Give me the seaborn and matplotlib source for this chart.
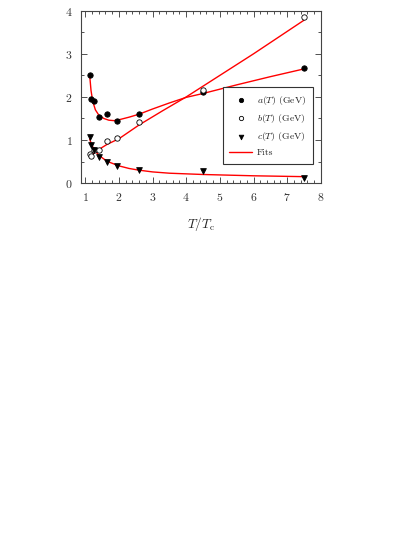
import matplotlib
matplotlib.use("Agg")
import matplotlib.pyplot as plt
import matplotlib.ticker as mticker
import seaborn as sns
import pandas as pd

# ── Data ──────────────────────────────────────────────────────────────────────
T = [1.13, 1.18, 1.25, 1.40, 1.65, 1.95, 2.60, 4.50, 7.50]
a_vals = [2.50, 1.95, 1.91, 1.54, 1.60, 1.45, 1.60, 2.12, 2.68]
b_vals = [0.67, 0.63, 0.77, 0.78, 0.97, 1.05, 1.42, 2.17, 3.85]
c_vals = [1.07, 0.88, 0.78, 0.60, 0.49, 0.40, 0.31, 0.28, 0.11]

# fit curves
a_fit_T = [1.13, 1.17, 1.22, 1.30, 1.40, 1.55, 1.70, 1.85, 2.00, 2.30, 2.60, 3.00, 3.50, 4.00, 4.50, 5.50, 6.50, 7.50]
a_fit = [2.50, 2.15, 1.90, 1.70, 1.58, 1.50, 1.46, 1.45, 1.47, 1.53, 1.60, 1.72, 1.86, 1.99, 2.08, 2.28, 2.47, 2.65]
b_fit_T = [1.13, 1.25, 1.40, 1.65, 2.00, 2.60, 3.30, 4.00, 5.00, 6.00, 7.50]
b_fit = [0.63, 0.69, 0.78, 0.90, 1.03, 1.35, 1.68, 2.00, 2.50, 3.00, 3.78]
c_fit_T = [1.13, 1.20, 1.30, 1.40, 1.55, 1.70, 2.00, 2.30, 2.60, 3.00, 3.50, 4.50, 6.00, 7.50]
c_fit = [1.02, 0.87, 0.74, 0.65, 0.56, 0.49, 0.40, 0.34, 0.30, 0.26, 0.23, 0.20, 0.17, 0.15]

sns.set_theme(style="ticks")
plt.rcParams.update({
    "font.family": ["serif"],
    "font.serif": ["cmr10", "DejaVu Serif"],
    "mathtext.fontset": "cm",
    "axes.formatter.use_mathtext": True,
    "axes.unicode_minus": False,
})

df = pd.DataFrame({"T": T, "a": a_vals, "b": b_vals, "c": c_vals})

fig = plt.figure(figsize=(4.15, 5.37), dpi=100)
ax = fig.add_axes([0.195, 0.659, 0.578, 0.321])

fit_kw = dict(color="#ff0000", linewidth=1.0, zorder=2)
ax.plot(a_fit_T, a_fit, **fit_kw)
ax.plot(b_fit_T, b_fit, **fit_kw)
ax.plot(c_fit_T, c_fit, label="Fits", **fit_kw)

sns.scatterplot(data=df, x="T", y="a", ax=ax, marker="o", s=15, color="black",
                edgecolor="black", linewidth=0.6, label="$a(T)$ (GeV)", zorder=3)
sns.scatterplot(data=df, x="T", y="b", ax=ax, marker="o", s=15, facecolor="white",
                edgecolor="black", linewidth=0.6, label="$b(T)$ (GeV)", zorder=3)
sns.scatterplot(data=df, x="T", y="c", ax=ax, marker="v", s=17, color="black",
                edgecolor="black", linewidth=0.6, label="$c(T)$ (GeV)", zorder=3)

ax.set_xlim(0.87, 8)
ax.set_ylim(0, 4)
ax.xaxis.set_major_locator(mticker.MultipleLocator(1))
ax.xaxis.set_minor_locator(mticker.MultipleLocator(0.2))
ax.yaxis.set_major_locator(mticker.MultipleLocator(1))
ax.yaxis.set_minor_locator(mticker.MultipleLocator(0.5))
ax.tick_params(which="both", direction="in", top=True, right=True,
               labelsize=8.5, colors="#333333", width=0.6)
ax.tick_params(which="major", length=4, pad=6)
ax.tick_params(which="minor", length=2)
for spine in ax.spines.values():
    spine.set_linewidth(0.8)
    spine.set_color("#444444")

ax.set_xlabel("$T/T_\\mathrm{c}$", fontsize=9.5, labelpad=8)
ax.set_ylabel("")

handles, labels = ax.get_legend_handles_labels()
order = [labels.index(l) for l in ["$a(T)$ (GeV)", "$b(T)$ (GeV)", "$c(T)$ (GeV)", "Fits"]]
leg = ax.legend([handles[i] for i in order], [labels[i] for i in order],
                loc="lower right", bbox_to_anchor=(0.967, 0.11),
                fontsize=7, frameon=True, fancybox=False, framealpha=1,
                edgecolor="#333333", borderpad=0.7, labelspacing=0.55,
                handlelength=2.3, handletextpad=0.5, borderaxespad=0,
                markerscale=0.8)
leg.get_frame().set_linewidth(0.8)

fig.savefig("out.png", dpi=100)
